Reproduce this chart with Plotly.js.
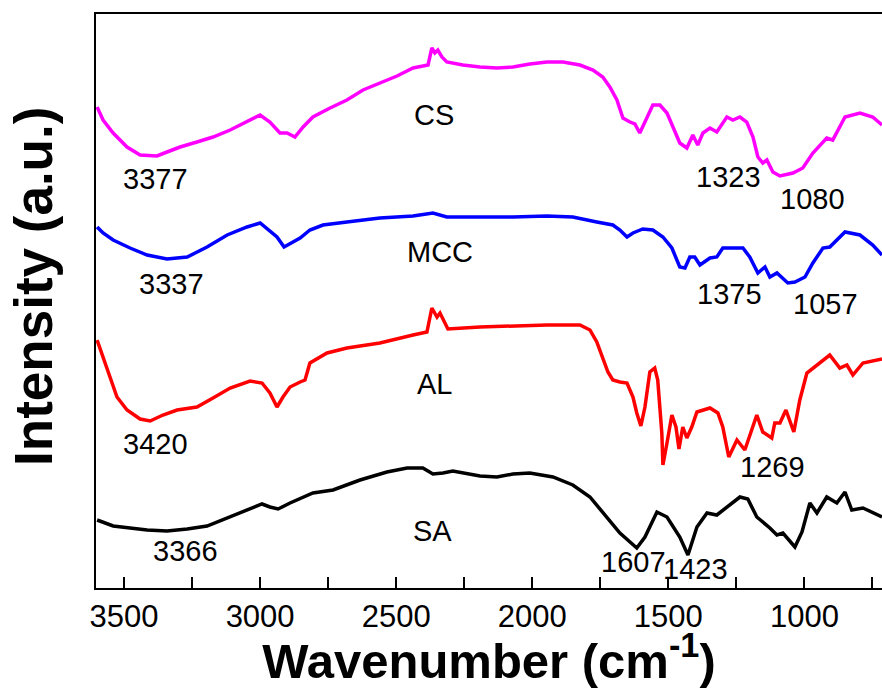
<!DOCTYPE html>
<html>
<head>
<meta charset="utf-8">
<script src="https://cdn.plot.ly/plotly-3.0.1.min.js"></script>
<style>html,body{margin:0;padding:0;background:#fff;}#chart{width:882px;height:688px;}</style>
</head>
<body>
<div id="chart"></div>
<script>
// Wavenumbers (cm-1) and intensities (a.u., offset-stacked)
const csWn = [3599,3577,3540,3489,3441,3379,3342,3294,3232,3173,3110,3048,3000,2964,2927,2901,2872,2842,2806,2743,2681,2622,2560,2497,2438,2383,2369,2358,2347,2332,2314,2255,2192,2130,2071,2009,1946,1887,1825,1777,1741,1715,1689,1667,1641,1623,1605,1579,1557,1531,1505,1483,1458,1432,1410,1392,1373,1347,1322,1285,1263,1237,1212,1189,1171,1153,1138,1116,1090,1042,1006,969,918,896,851,796,749,715];
const csI = [481,468,455,441,433,432,436,441,446,451,458,466,473,466,455,455,451,461,471,480,488,498,505,512,520,523,540,535,538,531,526,523,521,520,521,524,526,526,523,518,511,501,488,470,466,464,455,471,483,483,475,461,445,440,453,443,455,460,456,471,468,471,466,451,431,425,428,416,412,415,420,435,450,448,471,475,471,463];

const mccWn = [3599,3577,3540,3478,3415,3342,3268,3195,3121,3048,3000,2971,2938,2912,2879,2853,2817,2769,2681,2560,2438,2365,2314,2192,2071,1946,1851,1763,1704,1678,1652,1630,1594,1557,1520,1487,1458,1439,1421,1403,1384,1347,1322,1300,1226,1201,1171,1145,1127,1101,1079,1061,1035,998,969,932,907,881,851,796,749,715];
const mccI = [361,355,348,340,333,329,331,341,353,361,365,358,351,341,346,350,358,363,366,370,372,375,371,371,371,372,371,366,363,358,351,355,359,358,351,340,321,320,331,331,323,330,331,340,340,331,315,321,311,315,310,305,306,311,325,340,341,348,356,353,343,333];

const alWn = [3599,3577,3551,3526,3489,3441,3404,3357,3305,3232,3173,3110,3037,2993,2964,2938,2916,2890,2853,2835,2817,2754,2681,2560,2438,2387,2369,2350,2339,2310,2192,2071,1946,1825,1788,1763,1741,1722,1704,1678,1652,1630,1616,1601,1586,1568,1550,1539,1524,1520,1505,1487,1472,1461,1447,1432,1414,1395,1347,1318,1300,1278,1248,1219,1175,1153,1120,1109,1090,1068,1039,1017,991,969,907,870,844,822,785,715];
const alI = [248,231,211,191,178,169,167,173,178,181,190,200,207,205,195,181,191,201,206,208,225,235,240,245,253,256,280,271,275,259,261,262,263,263,258,246,231,216,208,206,205,191,175,162,181,216,220,208,155,123,145,173,161,139,161,150,161,176,180,175,161,131,148,138,173,156,150,165,165,178,156,188,215,220,233,220,223,213,225,229];

const saWn = [3599,3540,3478,3415,3342,3268,3195,3121,3048,2993,2964,2934,2890,2806,2732,2633,2534,2460,2402,2365,2328,2292,2192,2130,2071,2009,1924,1851,1788,1726,1678,1616,1586,1542,1505,1458,1428,1395,1358,1322,1285,1237,1208,1175,1127,1101,1079,1035,1009,980,954,918,881,851,826,785,715];
const saI = [68,62,60,58,57,59,62,70,78,84,81,79,85,95,98,108,116,120,120,114,115,117,112,111,114,115,111,103,91,71,55,40,51,76,71,51,33,61,75,73,81,91,89,71,60,53,55,41,56,85,75,91,85,96,78,80,71];

const seriesNames = ['CS','MCC','AL','SA'];
const seriesColors = ['#ff00ff','#0000ff','#ff0000','#000000'];

// ticks every 250 cm-1, labelled every 500 cm-1
const tickVals = [3500,3250,3000,2750,2500,2250,2000,1750,1500,1250,1000,750];
const tickText = ['3500','','3000','','2500','','2000','','1500','','1000',''];

// label texts with their anchor (wavenumber, intensity)
const labelText = ['CS','3377','1323','1080','MCC','3337','1375','1057','AL','3420','1269','SA','3366','1607','1423'];
const labelWn   = [2361,3386,1278,969,2339,3324,1274,921,2361,3386,1116,2365,3276,1627,1399];
const labelI    = [473,409,411,389,336,304,294,284,204,144,121,57,37,26,19];

const xs = [csWn, mccWn, alWn, saWn];
const ys = [csI, mccI, alI, saI];

const traces = seriesNames.map((n, i) => ({
  x: xs[i], y: ys[i], name: n, type: 'scatter', mode: 'lines',
  line: {color: seriesColors[i], width: 3.5}
}));

const fontFam = 'Arial, "Liberation Sans", Helvetica, sans-serif';
const annotations = labelText.map((t, i) => ({
  x: labelWn[i], y: labelI[i], xref: 'x', yref: 'y', text: t, showarrow: false,
  xanchor: 'center', yanchor: 'middle',
  font: {family: fontFam, size: 29, color: '#000'}
}));

const layout = {
  width: 882, height: 688,
  margin: {l: 96, r: 0, t: 14, b: 100},
  paper_bgcolor: '#ffffff', plot_bgcolor: '#ffffff',
  showlegend: false,
  xaxis: {
    range: [3603, 715], autorange: false,
    tickmode: 'array', tickvals: tickVals, ticktext: tickText,
    ticks: 'inside', ticklen: 11, tickwidth: 2, tickcolor: '#000',
    showline: true, linewidth: 2, linecolor: '#000', mirror: true,
    showgrid: false, zeroline: false,
    tickfont: {family: fontFam, size: 31, color: '#000'},
    title: {text: '<b>Wavenumber (cm<sup>-1</sup>)</b>', font: {family: fontFam, size: 49, color: '#000'}, standoff: 6}
  },
  yaxis: {
    range: [0, 574], autorange: false,
    showticklabels: false, ticks: '',
    showline: true, linewidth: 2, linecolor: '#000',
    showgrid: false, zeroline: false,
    title: {text: '<b>&nbsp;&nbsp;Intensity (a.u.)</b>', font: {family: fontFam, size: 53, color: '#000'}, standoff: 24}
  },
  annotations: annotations
};

Plotly.newPlot('chart', traces, layout, {displayModeBar: false, staticPlot: true});
</script>
</body>
</html>
